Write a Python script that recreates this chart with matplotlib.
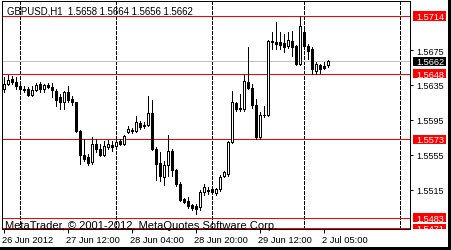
import matplotlib
matplotlib.use("Agg")
import matplotlib.pyplot as plt
from matplotlib.transforms import blended_transform_factory, Bbox, TransformedBbox
from matplotlib.patches import Rectangle

# ---------------- data ----------------
header_text = "GBPUSD,H1  1.5658 1.5664 1.5656 1.5662"
footer_text = "MetaTrader, \u00a9 2001-2012, MetaQuotes Software Corp."

opens = [1.5630, 1.5636, 1.5642, 1.5638, 1.5634, 1.5630, 1.5630, 1.5623, 1.5629, 1.5636,
         1.5630, 1.5635, 1.5633, 1.5628, 1.5621, 1.5615, 1.5627, 1.5619, 1.5615, 1.5582,
         1.5555, 1.5552, 1.5547, 1.5567, 1.5562, 1.5555, 1.5564, 1.5566, 1.5565, 1.5571,
         1.5567, 1.5581, 1.5582, 1.5582, 1.5591, 1.5588, 1.5589, 1.5603, 1.5562, 1.5546,
         1.5529, 1.5543, 1.5559, 1.5538, 1.5521, 1.5504, 1.5502, 1.5497, 1.5496, 1.5495,
         1.5512, 1.5515, 1.5516, 1.5511, 1.5516, 1.5531, 1.5533, 1.5570, 1.5614, 1.5609,
         1.5607, 1.5638, 1.5631, 1.5612, 1.5575, 1.5600, 1.5600, 1.5685, 1.5684, 1.5684,
         1.5683, 1.5680, 1.5685, 1.5680, 1.5659, 1.5696, 1.5680, 1.5676, 1.5651, 1.5658,
         1.5657, 1.5658]
highs = [1.5644, 1.5646, 1.5645, 1.5644, 1.5640, 1.5634, 1.5633, 1.5634, 1.5637, 1.5638,
         1.5636, 1.5637, 1.5637, 1.5630, 1.5625, 1.5628, 1.5634, 1.5622, 1.5615, 1.5583,
         1.5573, 1.5556, 1.5575, 1.5573, 1.5567, 1.5571, 1.5572, 1.5571, 1.5573, 1.5573,
         1.5578, 1.5588, 1.5586, 1.5599, 1.5594, 1.5593, 1.5622, 1.5618, 1.5564, 1.5558,
         1.5548, 1.5578, 1.5562, 1.5539, 1.5524, 1.5505, 1.5507, 1.5499, 1.5499, 1.5515,
         1.5521, 1.5518, 1.5518, 1.5517, 1.5532, 1.5536, 1.5571, 1.5628, 1.5615, 1.5625,
         1.5646, 1.5678, 1.5636, 1.5619, 1.5604, 1.5611, 1.5686, 1.5696, 1.5707, 1.5696,
         1.5693, 1.5696, 1.5697, 1.5681, 1.5714, 1.5699, 1.5682, 1.5678, 1.5661, 1.5659,
         1.5661, 1.5664]
lows = [1.5627, 1.5635, 1.5636, 1.5630, 1.5628, 1.5627, 1.5622, 1.5622, 1.5628, 1.5627,
        1.5627, 1.5631, 1.5621, 1.5611, 1.5607, 1.5607, 1.5615, 1.5612, 1.5581, 1.5544,
        1.5548, 1.5543, 1.5544, 1.5558, 1.5554, 1.5554, 1.5562, 1.5559, 1.5563, 1.5566,
        1.5566, 1.5580, 1.5580, 1.5581, 1.5584, 1.5586, 1.5588, 1.5560, 1.5526, 1.5525,
        1.5520, 1.5531, 1.5531, 1.5519, 1.5502, 1.5500, 1.5494, 1.5492, 1.5487, 1.5492,
        1.5509, 1.5510, 1.5510, 1.5509, 1.5513, 1.5529, 1.5531, 1.5568, 1.5605, 1.5605,
        1.5605, 1.5630, 1.5609, 1.5573, 1.5573, 1.5598, 1.5599, 1.5676, 1.5676, 1.5676,
        1.5673, 1.5677, 1.5668, 1.5658, 1.5658, 1.5678, 1.5665, 1.5648, 1.5648, 1.5649,
        1.5653, 1.5656]
closes = [1.5636, 1.5641, 1.5638, 1.5634, 1.5630, 1.5629, 1.5623, 1.5629, 1.5635, 1.5630,
          1.5635, 1.5633, 1.5629, 1.5618, 1.5615, 1.5627, 1.5618, 1.5615, 1.5582, 1.5555,
          1.5550, 1.5546, 1.5567, 1.5562, 1.5555, 1.5565, 1.5567, 1.5564, 1.5570, 1.5567,
          1.5577, 1.5584, 1.5583, 1.5593, 1.5587, 1.5589, 1.5603, 1.5562, 1.5544, 1.5531,
          1.5543, 1.5559, 1.5538, 1.5521, 1.5503, 1.5501, 1.5496, 1.5494, 1.5493, 1.5512,
          1.5518, 1.5514, 1.5512, 1.5516, 1.5529, 1.5535, 1.5570, 1.5615, 1.5607, 1.5607,
          1.5640, 1.5631, 1.5612, 1.5575, 1.5600, 1.5601, 1.5685, 1.5684, 1.5682, 1.5681,
          1.5678, 1.5687, 1.5678, 1.5659, 1.5703, 1.5680, 1.5674, 1.5653, 1.5659, 1.5653,
          1.5654, 1.5662]

time_tick_bars = [0, 16, 32, 48, 64, 80]
time_tick_labels = ["26 Jun 2012", "27 Jun 12:00", "28 Jun 04:00",
                    "28 Jun 20:00", "29 Jun 12:00", "2 Jul 05:00"]
day_break_bars = [4, 28, 52, 75, 99]
price_ticks = [1.5675, 1.5635, 1.5595, 1.5555, 1.5515]
red_levels = [1.5714, 1.5648, 1.5573, 1.5483, 1.5471]
bid_price = 1.5662

# ---------------- layout ----------------
W, H = 451, 251
PX = 0.72  # one pixel in points at 100 dpi
FONT = "Liberation Sans"
plt.rcParams["font.family"] = [FONT, "DejaVu Sans"]

fig = plt.figure(figsize=(W / 100, H / 100), dpi=100)
fig.patch.set_facecolor("white")

Lp, Rp, Tp, Bp = 2.3, 409.5, 1.5, 229.8
ax = fig.add_axes([Lp / W, 1 - Bp / H, (Rp - Lp) / W, (Bp - Tp) / H])
ax.set_facecolor("white")

# pixel <-> value mapping (bar spacing 4 px, 0.0001146 per px)
ax.set_xlim((Lp - 3.5) / 4, (Rp - 3.5) / 4)
ppx = 0.0001146
ax.set_ylim(1.5714 - (Bp - 17) * ppx, 1.5714 + (17 - Tp) * ppx)

for s in ax.spines.values():
    s.set_color("black")
    s.set_linewidth(PX)
    s.set_antialiased(False)

# vertical dashed day separators
for k in day_break_bars:
    ax.axvline(k + 0.05, color="black", lw=PX, ls=(0, (3, 2)), antialiased=False, zorder=1)

# horizontal levels
for lv in red_levels:
    ax.axhline(lv, color="#ff0000", lw=PX, antialiased=False, zorder=1.5)
ax.axhline(bid_price, color="#c0c0c0", lw=PX, antialiased=False, zorder=1.5)

# candles
xs = list(range(len(opens)))
ax.vlines(xs, lows, highs, colors="black", lw=PX, antialiased=False, zorder=2)
heights = [c - o for o, c in zip(opens, closes)]
faces = ["white" if c >= o else "black" for o, c in zip(opens, closes)]
bars = ax.bar(xs, heights, bottom=opens, width=0.5, color=faces,
              edgecolor="black", linewidth=PX, zorder=3)
for b in bars:
    b.set_antialiased(False)

# axes ticks
ax.yaxis.tick_right()
ax.set_yticks(price_ticks)
ax.set_yticklabels(["%.4f" % p for p in price_ticks])
ax.tick_params(axis="y", length=2.4, width=PX, pad=2.6, labelsize=6.5,
               colors="black", direction="out")
ax.set_xticks(time_tick_bars)
ax.tick_params(axis="x", length=3, width=PX, labelbottom=False, direction="out")

for k, lab in zip(time_tick_bars, time_tick_labels):
    ax.annotate(lab, xy=(k, 0), xycoords=ax.get_xaxis_transform(),
                xytext=(-1.1, -9.4), textcoords="offset points",
                ha="left", va="baseline", fontsize=6.7, color="black",
                annotation_clip=False)

# price label boxes on the right
trans = blended_transform_factory(fig.transFigure, ax.transData)
clip = TransformedBbox(Bbox([[0, 1 - Bp / H], [1, 1]]), fig.transFigure)
box_levels = red_levels + [bid_price]
box_colors = ["#ff0000"] * len(red_levels) + ["black"]
for lv, col in zip(box_levels, box_colors):
    r = Rectangle((412.7 / W, lv - 4.5 * ppx), 33 / W, 9 * ppx,
                  transform=trans, facecolor=col, edgecolor="none",
                  clip_on=True, antialiased=False, zorder=5)
    r.set_clip_box(clip)
    fig.add_artist(r)
    t = fig.text(416.0 / W, lv - 3.0 * ppx, "%.4f" % lv, transform=trans,
                 color="white", fontsize=6.6, ha="left", va="baseline", zorder=6)
    t.set_clip_box(clip)
    t.set_clip_on(True)

# header and footer
fig.text(7.0 / W, 1 - 14.2 / H, header_text, fontsize=6.9, color="black",
         ha="left", va="baseline")
fig.text(5.0 / W, 1 - 228.6 / H, footer_text, fontsize=8.0, color="black",
         ha="left", va="baseline")

# window edge (right and bottom dark borders)
fig.add_artist(Rectangle((447.5 / W, 0), 3.5 / W, 1, transform=fig.transFigure,
                         facecolor="black", edgecolor="none", antialiased=False))
fig.add_artist(Rectangle((0, 0), 1, 3.5 / H, transform=fig.transFigure,
                         facecolor="black", edgecolor="none", antialiased=False))

fig.savefig("out.png", dpi=100)
